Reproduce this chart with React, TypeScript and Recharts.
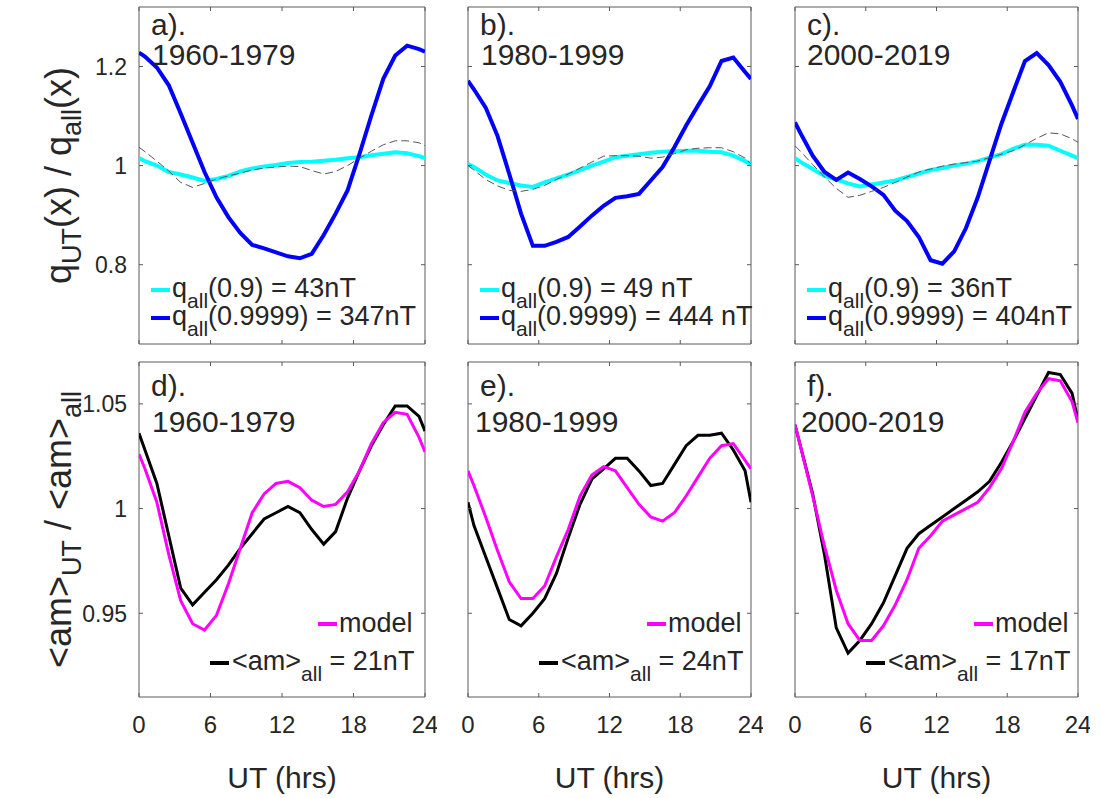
import React from "react";
import { Line, LineChart, ReferenceArea, XAxis, YAxis } from "recharts";

// hour-bin centres, plus the wrapped end points at 0 and 24 UT
const hours = [0, 0.5, 1.5, 2.5, 3.5, 4.5, 5.5, 6.5, 7.5, 8.5, 9.5, 10.5, 11.5, 12.5, 13.5, 14.5, 15.5, 16.5, 17.5, 18.5, 19.5, 20.5, 21.5, 22.5, 23.5, 24];

const xTicks = [0, 6, 12, 18, 24];
const qTicks = [0.8, 1, 1.2];
const amTicks = [0.95, 1, 1.05];
const qDomain: [number, number] = [0.64, 1.32];
const amDomain: [number, number] = [0.91, 1.07];

// a) 1960-1979
const aQ09 = [1.015, 1.009, 1.0, 0.987, 0.982, 0.976, 0.969, 0.973, 0.979, 0.988, 0.994, 0.998, 1.001, 1.005, 1.007, 1.008, 1.01, 1.012, 1.015, 1.017, 1.021, 1.024, 1.027, 1.025, 1.019, 1.015];
const aQ9999 = [1.228, 1.22, 1.198, 1.162, 1.105, 1.046, 0.987, 0.936, 0.896, 0.864, 0.84, 0.833, 0.825, 0.817, 0.813, 0.822, 0.86, 0.903, 0.95, 1.023, 1.101, 1.175, 1.222, 1.242, 1.235, 1.23];
const aDash = [1.037, 1.028, 1.009, 0.989, 0.966, 0.956, 0.964, 0.973, 0.979, 0.985, 0.991, 0.995, 0.997, 0.999, 0.998, 0.99, 0.983, 0.988, 1.0, 1.015, 1.029, 1.042, 1.05, 1.05, 1.046, 1.04];

// b) 1980-1999
const bQ09 = [1.003, 0.997, 0.982, 0.97, 0.965, 0.96, 0.957, 0.966, 0.974, 0.982, 0.991, 1.0, 1.008, 1.017, 1.02, 1.023, 1.026, 1.028, 1.029, 1.03, 1.03, 1.028, 1.027, 1.02, 1.009, 1.003];
const bQ9999 = [1.171, 1.154, 1.117, 1.06, 0.983, 0.903, 0.838, 0.838, 0.846, 0.856, 0.877, 0.899, 0.919, 0.935, 0.938, 0.943, 0.97, 0.997, 1.037, 1.081, 1.121, 1.16, 1.211, 1.218, 1.189, 1.175];
const bDash = [1.0, 0.991, 0.972, 0.959, 0.95, 0.948, 0.952, 0.96, 0.972, 0.983, 0.995, 1.007, 1.019, 1.02, 1.02, 1.019, 1.015, 1.017, 1.024, 1.032, 1.035, 1.036, 1.036, 1.028, 1.015, 1.003];

// c) 2000-2019
const cQ09 = [1.015, 1.007, 0.993, 0.979, 0.972, 0.964, 0.958, 0.962, 0.966, 0.97, 0.977, 0.984, 0.991, 0.995, 1.0, 1.004, 1.009, 1.016, 1.023, 1.034, 1.042, 1.042, 1.04, 1.03, 1.02, 1.015];
const cQ9999 = [1.087, 1.064, 1.02, 0.987, 0.971, 0.986, 0.973, 0.958, 0.941, 0.909, 0.888, 0.856, 0.809, 0.802, 0.827, 0.874, 0.936, 1.01, 1.084, 1.148, 1.211, 1.227, 1.203, 1.169, 1.121, 1.094];
const cDash = [1.04, 1.028, 1.002, 0.977, 0.954, 0.936, 0.94, 0.948, 0.956, 0.966, 0.977, 0.987, 0.993, 0.999, 1.003, 1.006, 1.009, 1.016, 1.023, 1.03, 1.042, 1.055, 1.066, 1.064, 1.054, 1.047];

// d-f) <am>_UT / <am>_all, observed and model
const dAm = [1.036, 1.028, 1.012, 0.987, 0.962, 0.954, 0.96, 0.966, 0.973, 0.981, 0.988, 0.995, 0.998, 1.001, 0.998, 0.99, 0.983, 0.989, 1.005, 1.018, 1.03, 1.04, 1.049, 1.049, 1.044, 1.037];
const dModel = [1.026, 1.019, 1.003, 0.978, 0.956, 0.945, 0.942, 0.949, 0.964, 0.981, 0.998, 1.007, 1.012, 1.013, 1.01, 1.004, 1.001, 1.002, 1.008, 1.018, 1.031, 1.041, 1.046, 1.045, 1.034, 1.027];
const eAm = [1.003, 0.992, 0.977, 0.962, 0.947, 0.944, 0.95, 0.957, 0.969, 0.986, 1.002, 1.014, 1.019, 1.024, 1.024, 1.018, 1.011, 1.012, 1.021, 1.03, 1.035, 1.035, 1.036, 1.028, 1.018, 1.003];
const eModel = [1.018, 1.011, 0.996, 0.98, 0.965, 0.957, 0.957, 0.963, 0.977, 0.99, 1.006, 1.016, 1.02, 1.018, 1.01, 1.002, 0.996, 0.994, 0.998, 1.006, 1.015, 1.024, 1.03, 1.031, 1.023, 1.019];
const fAm = [1.04, 1.029, 1.007, 0.978, 0.943, 0.931, 0.937, 0.945, 0.955, 0.968, 0.981, 0.988, 0.992, 0.996, 1.0, 1.004, 1.008, 1.013, 1.022, 1.032, 1.043, 1.054, 1.065, 1.064, 1.055, 1.042];
const fModel = [1.04, 1.029, 1.006, 0.982, 0.961, 0.945, 0.937, 0.937, 0.944, 0.954, 0.966, 0.981, 0.987, 0.994, 0.997, 1.0, 1.003, 1.01, 1.019, 1.032, 1.046, 1.055, 1.062, 1.061, 1.051, 1.041];

const tags = ["a).", "b).", "c).", "d).", "e).", "f)."];
const periods = ["1960-1979", "1980-1999", "2000-2019"];
const qLegend = [["43nT", "347nT"], ["49 nT", "444 nT"], ["36nT", "404nT"]];
const amLegend = ["21nT", "24nT", "17nT"];

const CYAN = "#00ffff";
const BLUE = "#0000ff";
const MAGENTA = "#ff00ff";
const BLACK = "#000000";
const DASH = "#555555";
const INK = "#262626";
const FRAME = "#5a5a5a";
const FONT = '"Liberation Sans", Arial, Helvetica, sans-serif';

const LM = 60;
const TM = 10;
const RM = 12;
const BM = 50;
const TICK = 4;

const cols = [
  { left: 139, width: 286 },
  { left: 468, width: 283 },
  { left: 795, width: 283 },
];
const rowPos = [
  { top: 7, height: 337 },
  { top: 362, height: 335 },
];

type SeriesDef = { key: string; values: number[]; color: string; width: number; dash?: string };

const qSeries = (q09: number[], q9999: number[], dash: number[]): SeriesDef[] => [
  { key: "q09", values: q09, color: CYAN, width: 4 },
  { key: "q9999", values: q9999, color: BLUE, width: 4 },
  { key: "dash", values: dash, color: DASH, width: 1, dash: "8 4" },
];

const amSeries = (am: number[], model: number[]): SeriesDef[] => [
  { key: "am", values: am, color: BLACK, width: 3 },
  { key: "model", values: model, color: MAGENTA, width: 3 },
];

const panels = [
  { col: 0, row: 0, periodDx: 13, series: qSeries(aQ09, aQ9999, aDash) },
  { col: 1, row: 0, periodDx: 13, series: qSeries(bQ09, bQ9999, bDash) },
  { col: 2, row: 0, periodDx: 12, series: qSeries(cQ09, cQ9999, cDash) },
  { col: 0, row: 1, periodDx: 13, series: amSeries(dAm, dModel) },
  { col: 1, row: 1, periodDx: 7, series: amSeries(eAm, eModel) },
  { col: 2, row: 1, periodDx: 6, series: amSeries(fAm, fModel) },
];

function XTick(props: any) {
  const { x, y, payload, plotH, show } = props;
  return (
    <g>
      <line x1={x} x2={x} y1={y} y2={y - TICK} stroke={FRAME} />
      <line x1={x} x2={x} y1={y - plotH} y2={y - plotH + TICK} stroke={FRAME} />
      {show && (
        <text x={x} y={y + 36} textAnchor="middle" fontSize={24} fill={INK} fontFamily={FONT}>
          {payload.value}
        </text>
      )}
    </g>
  );
}

function YTick(props: any) {
  const { x, y, payload, plotW, show } = props;
  return (
    <g>
      <line x1={x} x2={x + TICK} y1={y} y2={y} stroke={FRAME} />
      <line x1={x + plotW - TICK} x2={x + plotW} y1={y} y2={y} stroke={FRAME} />
      {show && (
        <text x={x - 12} y={y} dy="0.36em" textAnchor="end" fontSize={23} fill={INK} fontFamily={FONT}>
          {payload.value}
        </text>
      )}
    </g>
  );
}

function Panel({ p }: { p: (typeof panels)[number] }) {
  const c = cols[p.col];
  const r = rowPos[p.row];
  const domain = p.row === 0 ? qDomain : amDomain;
  const ticks = p.row === 0 ? qTicks : amTicks;
  const data = hours.map((h, i) => {
    const row: Record<string, number> = { h };
    p.series.forEach((s) => (row[s.key] = s.values[i]));
    return row;
  });

  return (
    <div style={{ position: "absolute", left: c.left - LM, top: r.top - TM }}>
      <LineChart
        width={LM + c.width + RM}
        height={TM + r.height + BM}
        data={data}
        margin={{ top: TM, right: RM, bottom: 0, left: 0 }}
      >
        <XAxis
          dataKey="h"
          type="number"
          domain={[0, 24]}
          ticks={xTicks}
          interval={0}
          height={BM}
          axisLine={false}
          tickLine={false}
          tickSize={0}
          tickMargin={0}
          allowDataOverflow
          tick={(t: any) => <XTick {...t} plotH={r.height} show={p.row === 1} />}
        />
        <YAxis
          type="number"
          domain={domain}
          ticks={ticks}
          interval={0}
          width={LM}
          axisLine={false}
          tickLine={false}
          tickSize={0}
          tickMargin={0}
          allowDataOverflow
          tick={(t: any) => <YTick {...t} plotW={c.width} show={p.col === 0} />}
        />
        {p.series.map((s) => (
          <Line
            key={s.key}
            dataKey={s.key}
            type="linear"
            stroke={s.color}
            strokeWidth={s.width}
            strokeDasharray={s.dash}
            dot={false}
            activeDot={false}
            isAnimationActive={false}
          />
        ))}
        <ReferenceArea
          x1={0}
          x2={24}
          y1={domain[0]}
          y2={domain[1]}
          fill="none"
          stroke={FRAME}
          strokeWidth={1}
          ifOverflow="visible"
        />
      </LineChart>
    </div>
  );
}

function PanelText({ p, i }: { p: (typeof panels)[number]; i: number }) {
  const c = cols[p.col];
  const r = rowPos[p.row];
  const x = c.left;
  const y = r.top;
  const top = p.row === 0;
  return (
    <g>
      <text x={x + 12} y={y + (top ? 28 : 34)} fontSize={30}>
        {tags[i]}
      </text>
      <text x={x + p.periodDx} y={y + (top ? 58 : 70)} fontSize={30}>
        {periods[p.col]}
      </text>
      {top ? (
        <>
          <line x1={x + 12} x2={x + 31} y1={y + 283} y2={y + 283} stroke={CYAN} strokeWidth={4} />
          <text x={x + 33} y={y + 290} fontSize={27}>
            q<tspan dy={11} fontSize={21}>all</tspan>
            <tspan dy={-11}>{`(0.9) = ${qLegend[p.col][0]}`}</tspan>
          </text>
          <line x1={x + 12} x2={x + 31} y1={y + 311} y2={y + 311} stroke={BLUE} strokeWidth={4} />
          <text x={x + 33} y={y + 318} fontSize={27}>
            q<tspan dy={11} fontSize={21}>all</tspan>
            <tspan dy={-11}>{`(0.9999) = ${qLegend[p.col][1]}`}</tspan>
          </text>
        </>
      ) : (
        <>
          <line x1={x + 179} x2={x + 198} y1={y + 262} y2={y + 262} stroke={MAGENTA} strokeWidth={4} />
          <text x={x + 200} y={y + 270} fontSize={27}>
            model
          </text>
          <line x1={x + 71} x2={x + 90} y1={y + 301} y2={y + 301} stroke={BLACK} strokeWidth={4} />
          <text x={x + 93} y={y + 308} fontSize={27}>
            {"<am>"}
            <tspan dy={11} fontSize={21}>all</tspan>
            <tspan dy={-11}>{` = ${amLegend[p.col]}`}</tspan>
          </text>
        </>
      )}
    </g>
  );
}

export default function App() {
  return (
    <div
      style={{
        position: "absolute",
        left: 0,
        top: 0,
        width: 1101,
        height: 798,
        background: "#ffffff",
        overflow: "hidden",
      }}
    >
      {panels.map((p, i) => (
        <Panel key={tags[i]} p={p} />
      ))}
      <svg
        width={1101}
        height={798}
        style={{ position: "absolute", left: 0, top: 0, pointerEvents: "none" }}
        fontFamily={FONT}
        fill={INK}
      >
        {panels.map((p, i) => (
          <PanelText key={tags[i]} p={p} i={i} />
        ))}
        <text
          transform={`translate(71, ${rowPos[0].top + rowPos[0].height / 2}) rotate(-90)`}
          textAnchor="middle"
          fontSize={36}
        >
          q<tspan dy={10} fontSize={27}>UT</tspan>
          <tspan dy={-10}>(x) / q</tspan>
          <tspan dy={10} fontSize={27}>all</tspan>
          <tspan dy={-10}>(x)</tspan>
        </text>
        <text
          transform={`translate(71, ${rowPos[1].top + rowPos[1].height / 2}) rotate(-90)`}
          textAnchor="middle"
          fontSize={36}
        >
          {"<am>"}
          <tspan dy={10} fontSize={27}>UT</tspan>
          <tspan dy={-10}>{" / <am>"}</tspan>
          <tspan dy={10} fontSize={27}>all</tspan>
        </text>
        {cols.map((c) => (
          <text key={c.left} x={c.left + c.width / 2} y={788} textAnchor="middle" fontSize={30}>
            UT (hrs)
          </text>
        ))}
      </svg>
    </div>
  );
}
